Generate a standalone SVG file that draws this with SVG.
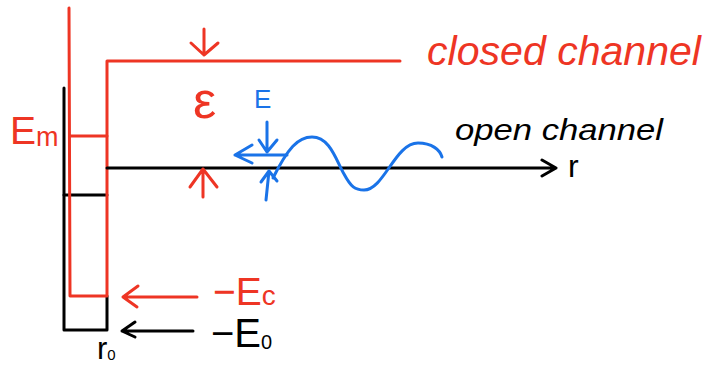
<svg xmlns="http://www.w3.org/2000/svg" width="707" height="368" viewBox="0 0 707 368">
<style>
.r{stroke:#ee3524;fill:none;stroke-width:3;stroke-linecap:round;stroke-linejoin:round}
.k{stroke:#000;fill:none;stroke-width:3;stroke-linecap:round;stroke-linejoin:round}
.b{stroke:#1a73e8;fill:none;stroke-width:3;stroke-linecap:round;stroke-linejoin:round}
.tr{fill:#ee3524;font-family:"Liberation Sans",sans-serif}
.tk{fill:#000;font-family:"Liberation Sans",sans-serif}
.tb{fill:#1a73e8;font-family:"Liberation Sans",sans-serif}
</style>
<rect width="707" height="368" fill="#fff"/>
<g id="well">
<path class="k" d="M64 88 V330 H107 V296"/>
<path class="k" d="M64 195 H107"/>
<path class="r" d="M69 8 L70 296 H107 V61 H400"/>
<path class="r" d="M70 136 H107"/>
</g>
<g id="connectors">
<path class="k" d="M107 168 H556 M542 160 L556 168 L542 176"/>
<path class="r" d="M204 29 V55 M191 43 L204 55 L218 43"/>
<path class="r" d="M203 197 V169 M190 187 L203 169 L217 187"/>
<path class="r" d="M123 297 H197 M138 286 L123 297 L137 307"/>
<path class="k" d="M122 331 H193 M135 322 L122 331 L135 337"/>
<path class="b" d="M267 122 V152 M259 140 L267 152 L277 140"/>
<path class="b" d="M235 155 H287 M252 145 L235 155 L252 163"/>
<path class="b" d="M266 200 L269 171 M261 182 L269 171 L277 181"/>
<path class="b" d="M273 178 C288 148, 298 137, 312 137 C330 137, 336 160, 344 174 C351 187, 355 190, 364 190 C384 190, 395 143, 418 143 C432 143, 440 150, 442 157"/>
</g>
<g id="labels">
<text class="tr" x="10" y="144" font-size="39">E<tspan font-size="27" dy="2">m</tspan></text>
<text class="tr" x="193" y="118" font-size="52">ε</text>
<text class="tb" x="254" y="108" font-size="26">E</text>
<text class="tr" x="427" y="65" font-size="40" font-style="italic" textLength="274" lengthAdjust="spacingAndGlyphs">closed channel</text>
<text class="tk" x="455" y="140" font-size="30" font-style="italic" textLength="208" lengthAdjust="spacingAndGlyphs">open channel</text>
<text class="tk" x="568" y="177" font-size="32">r</text>
<text class="tr" x="213" y="305" font-size="39">−E<tspan font-size="28">c</tspan></text>
<text class="tk" x="211" y="347" font-size="40">−E<tspan font-size="20" dy="2">0</tspan></text>
<text class="tk" x="97" y="359" font-size="31">r<tspan font-size="15" dy="1">0</tspan></text>
</g>
</svg>
